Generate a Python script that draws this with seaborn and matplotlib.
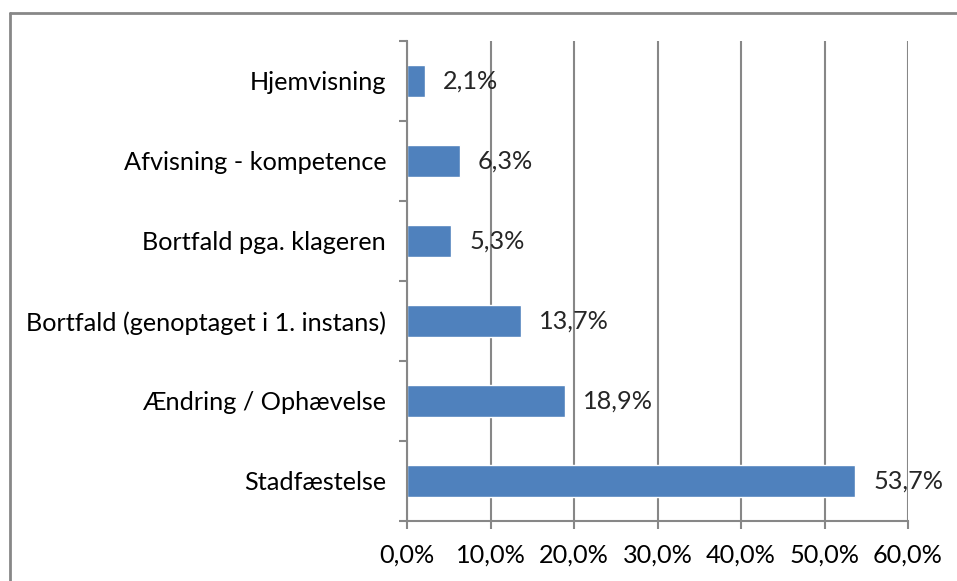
import matplotlib
matplotlib.use("Agg")
import matplotlib.pyplot as plt
from matplotlib.lines import Line2D
import seaborn as sns
import pandas as pd
import numpy as np

# data (top to bottom)
categories = ["Hjemvisning", "Afvisning - kompetence", "Bortfald pga. klageren",
              "Bortfald (genoptaget i 1. instans)", "Ændring / Ophævelse", "Stadfæstelse"]
shares = [2.1, 6.3, 5.3, 13.7, 18.9, 53.7]
x_ticks = [0, 10, 20, 30, 40, 50, 60]

bar_color = "#4F81BD"
line_gray = "#878787"

sns.set_style("white")
plt.rcParams["font.family"] = ["Lato", "DejaVu Sans"]
fsize = 18.2

df = pd.DataFrame({"cat": categories, "share": shares})

W, H = 957, 581
fig = plt.figure(figsize=(W / 100, H / 100), dpi=100)
ax = fig.add_axes([407 / W, 1 - 521 / H, (908 - 407) / W, (521 - 41) / H])

sns.barplot(data=df, x="share", y="cat", orient="h", color=bar_color,
            width=0.4, saturation=1, ax=ax)

ax.set_xlim(0, 60)
ax.set_ylim(len(categories) - 0.5, -0.5)
ax.set_xticks(x_ticks)
ax.set_xticklabels([f"{t:.1f}%".replace(".", ",") for t in x_ticks], fontsize=fsize)
ax.set_yticks(range(len(categories)))
ax.set_yticklabels(categories, fontsize=fsize)
ax.set_yticks(np.arange(-0.5, len(categories), 1), minor=True)
ax.set_xlabel("")
ax.set_ylabel("")

ax.tick_params(axis="y", which="major", length=0, pad=15, colors="black")
ax.tick_params(axis="y", which="minor", length=6, width=1.5, color=line_gray, left=True)
ax.tick_params(axis="x", which="major", length=6, width=1.5, color=line_gray,
               bottom=True, pad=10, labelcolor="black")

ax.grid(axis="x", color=line_gray, linewidth=1.5)
ax.set_axisbelow(True)
for side in ["top", "right"]:
    ax.spines[side].set_visible(False)
for side in ["left", "bottom"]:
    ax.spines[side].set_color(line_gray)
    ax.spines[side].set_linewidth(1.5)

for i, v in enumerate(shares):
    ax.annotate(f"{v:.1f}%".replace(".", ","), (v, i), xytext=(18, 0),
                textcoords="offset pixels", va="center", ha="left", fontsize=fsize)

# chart frame (left and top edges visible)
fig.add_artist(Line2D([9.5 / W, 9.5 / W], [0, 1 - 12.5 / H], transform=fig.transFigure,
                      color=line_gray, linewidth=2))
fig.add_artist(Line2D([9.5 / W, 1], [1 - 12.5 / H, 1 - 12.5 / H], transform=fig.transFigure,
                      color=line_gray, linewidth=2))

fig.savefig("out.png", dpi=100)
